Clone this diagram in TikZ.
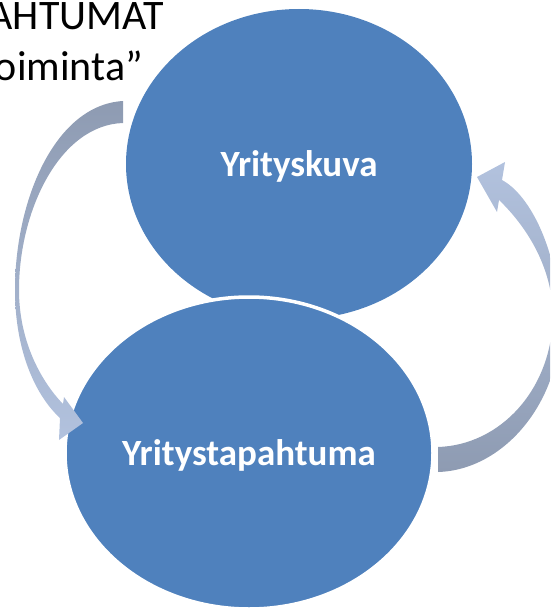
\documentclass[tikz,border=0pt]{standalone}
\usepackage{fontspec}
\setmainfont{Carlito}
\usetikzlibrary{shapes.geometric}
\definecolor{pallosini}{RGB}{79,129,189}
\definecolor{nuolitumma}{RGB}{142,155,178}
\definecolor{nuolivaalea}{RGB}{178,194,222}

\begin{document}
\begin{tikzpicture}[x=1pt,y=-1pt,
    pallo/.style={ellipse,fill=pallosini,text=white,text depth=0pt,
      font=\bfseries\fontsize{37}{44}\selectfont},
    otsikko/.style={anchor=base east,inner sep=0pt,font=\fontsize{42}{50}\selectfont}]
  \useasboundingbox (0,0) rectangle (550,610);
  \clip (0,0) rectangle (550,610);

  % Draw the heading, cut at the left edge
  \node[otsikko] (rivi1) at (164,30) {AHTUMAT};
  \node[otsikko] (rivi2) at (143,80) {oiminta”};

  % Draw the two circles, the lower one over the upper one
  \node[pallo,minimum width=346pt,minimum height=310pt] (kuva) at (299,164) {Yrityskuva};
  \node[pallo,draw=white,line width=3.5pt,minimum width=368pt,minimum height=312pt] (tapahtuma) at (249,453) {Yritystapahtuma};

  % Left arrow: from the upper circle down to the lower one
  \shade[top color=nuolitumma,bottom color=nuolivaalea]
    (123,101) .. controls (55,105) and (15,200) .. (15,290)
    .. controls (15,350) and (35,395) .. (60,418)
    -- (59,440) -- (83,423) -- (64,397) -- (63,404)
    .. controls (40,380) and (19,340) .. (19,290)
    .. controls (19,210) and (60,125) .. (123,123) -- cycle;

  % Right arrow: from the lower circle up to the upper one
  \shade[top color=nuolivaalea,bottom color=nuolitumma]
    (438,447) -- (438,472)
    .. controls (505,470) and (562,400) .. (560,320)
    .. controls (558,250) and (530,195) .. (502,180)
    -- (505,162) -- (477,177) -- (497,212) -- (499,200)
    .. controls (525,225) and (552,265) .. (553,315)
    .. controls (552,390) and (500,445) .. (438,447) -- cycle;
\end{tikzpicture}
\end{document}
